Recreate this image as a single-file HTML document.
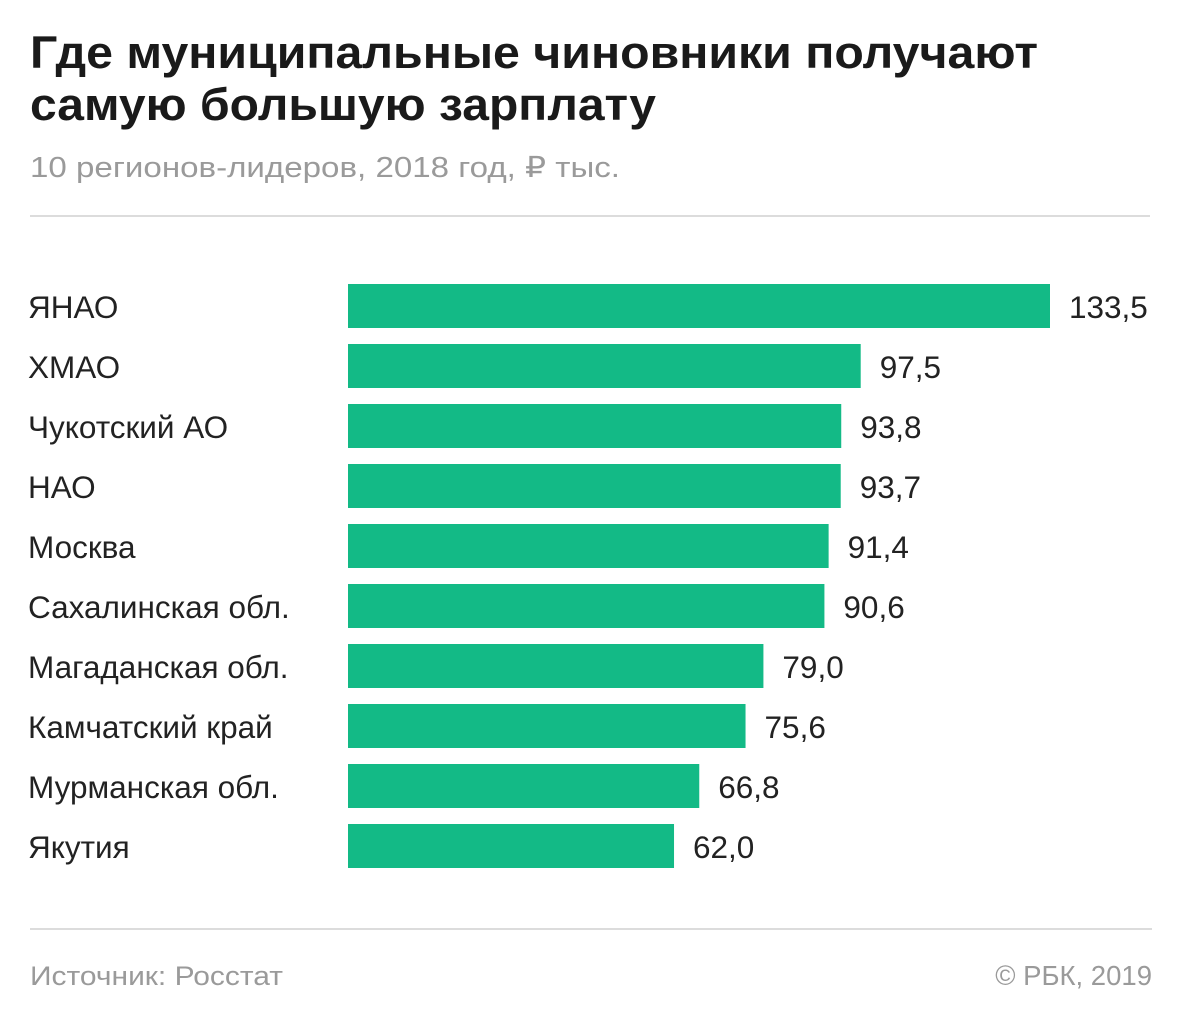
<!DOCTYPE html>
<html><head><meta charset="utf-8"><style>
html,body{margin:0;padding:0;background:#fff;}
svg{display:block;font-family:"Liberation Sans",sans-serif;}
</style></head><body>
<svg id="chart" width="1180" height="1026" viewBox="0 0 1180 1026">
<text x="30" y="68" font-size="45" font-weight="bold" fill="#1a1a1a" textLength="1008" lengthAdjust="spacingAndGlyphs">Где муниципальные чиновники получают</text>
<text x="30" y="120" font-size="45" font-weight="bold" fill="#1a1a1a" textLength="626" lengthAdjust="spacingAndGlyphs">самую большую зарплату</text>
<text x="30" y="177" font-size="29" fill="#9a9a9a" textLength="590" lengthAdjust="spacingAndGlyphs">10 регионов-лидеров, 2018 год, ₽ тыс.</text>
<rect x="30" y="215" width="1120" height="2" fill="#dcdcdc"/>
<g id="bars"></g>
<rect x="30" y="928" width="1122" height="2" fill="#dcdcdc"/>
<text x="30" y="985" font-size="27" fill="#9a9a9a" textLength="253" lengthAdjust="spacingAndGlyphs">Источник: Росстат</text>
<text x="1152" y="985" font-size="27.5" fill="#9a9a9a" text-anchor="end">© РБК, 2019</text>
</svg>
<script>
const categories = ["ЯНАО","ХМАО","Чукотский АО","НАО","Москва","Сахалинская обл.","Магаданская обл.","Камчатский край","Мурманская обл.","Якутия"];
const values = [133.5,97.5,93.8,93.7,91.4,90.6,79.0,75.6,66.8,62.0];
const valueLabels = ["133,5","97,5","93,8","93,7","91,4","90,6","79,0","75,6","66,8","62,0"];
const NS="http://www.w3.org/2000/svg";
const x0=348, scale=702/133.5;
function xScale(v){return v*scale;}
function yScale(i){return 284+i*60;}
const g=document.getElementById('bars');
categories.forEach((c,i)=>{
  const y=yScale(i), w=xScale(values[i]);
  const lab=document.createElementNS(NS,'text');
  
  
  lab.setAttribute('x',28);lab.setAttribute('y',y+34);
  lab.setAttribute('font-size','31.5');lab.setAttribute('fill','#222');
  lab.textContent=c;g.appendChild(lab);
  const r=document.createElementNS(NS,'rect');
  
  
  r.setAttribute('x',x0);r.setAttribute('y',y);r.setAttribute('width',w);r.setAttribute('height',44);
  r.setAttribute('fill','#13ba86');g.appendChild(r);
  const v=document.createElementNS(NS,'text');
  
  
  v.setAttribute('x',x0+w+19);v.setAttribute('y',y+34);
  v.setAttribute('font-size','31.5');v.setAttribute('fill','#222');
  v.textContent=valueLabels[i];g.appendChild(v);
});
</script>
</body></html>
